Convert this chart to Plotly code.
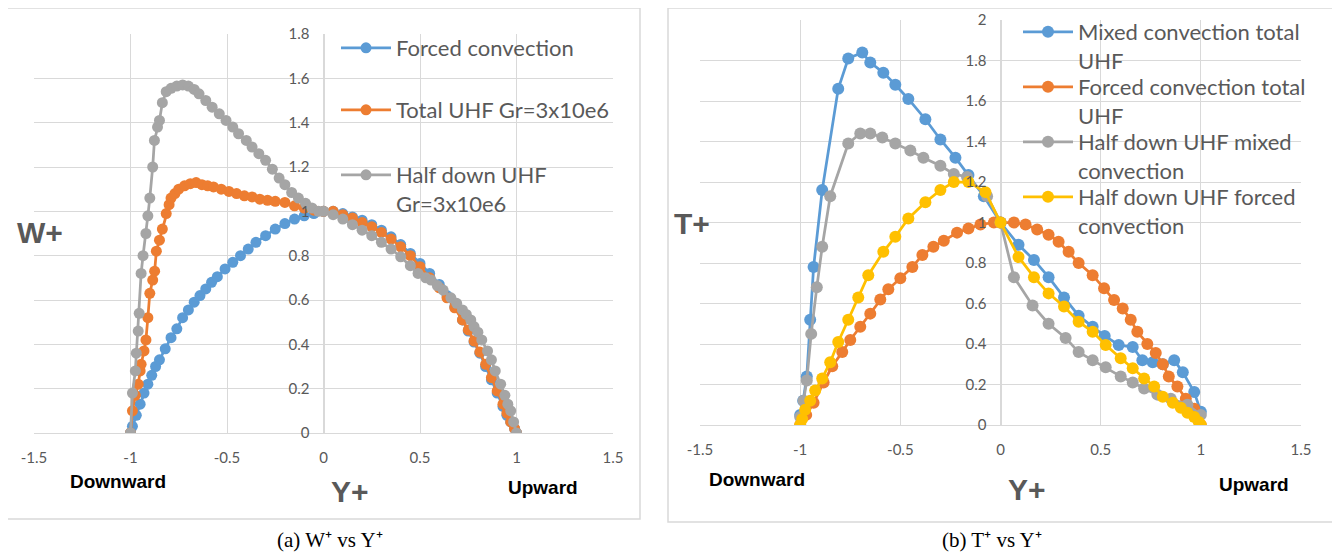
import plotly.graph_objects as go

# ---------------- data: panel (a) W+ vs Y+ ----------------
a_forced_y = [-1.0, -0.99, -0.97, -0.95, -0.93, -0.91, -0.89, -0.87, -0.85, -0.82, -0.79, -0.76, -0.73,
              -0.70, -0.67, -0.64, -0.61, -0.58, -0.55, -0.51, -0.47, -0.43, -0.39, -0.35, -0.30, -0.25,
              -0.20, -0.15, -0.10, -0.05, 0.0, 0.05, 0.10, 0.15, 0.20, 0.25, 0.30, 0.35, 0.40, 0.45, 0.50,
              0.55, 0.60, 0.64, 0.68, 0.72, 0.75, 0.78, 0.81, 0.84, 0.87, 0.90, 0.93, 0.95, 0.97, 0.99, 1.0]
a_forced_w = [0.0, 0.03, 0.08, 0.13, 0.18, 0.22, 0.26, 0.30, 0.33, 0.38, 0.43, 0.47, 0.52,
              0.555, 0.59, 0.62, 0.65, 0.68, 0.705, 0.74, 0.77, 0.80, 0.83, 0.86, 0.89, 0.92,
              0.945, 0.965, 0.98, 0.99, 1.0, 1.0, 0.99, 0.975, 0.96, 0.94, 0.915, 0.885, 0.85, 0.81, 0.765,
              0.72, 0.67, 0.62, 0.57, 0.51, 0.46, 0.41, 0.36, 0.30, 0.24, 0.18, 0.12, 0.08, 0.05, 0.02, 0.0]

a_total_y = [-1.0, -0.99, -0.975, -0.96, -0.95, -0.945, -0.93, -0.92, -0.91, -0.90, -0.885, -0.875, -0.866,
             -0.85, -0.835, -0.815, -0.80, -0.79, -0.77, -0.75, -0.72, -0.69, -0.66, -0.63, -0.60, -0.57,
             -0.53, -0.49, -0.45, -0.41, -0.37, -0.33, -0.29, -0.25, -0.20, -0.15, -0.10, -0.05, 0.0,
             0.05, 0.10, 0.15, 0.20, 0.25, 0.30, 0.35, 0.40, 0.45, 0.50, 0.55, 0.60, 0.64, 0.68, 0.72,
             0.75, 0.78, 0.81, 0.84, 0.87, 0.90, 0.93, 0.95, 0.97, 0.99, 1.0]
a_total_w = [0.0, 0.10, 0.17, 0.22, 0.28, 0.31, 0.37, 0.42, 0.52, 0.63, 0.69, 0.73, 0.82,
             0.87, 0.92, 0.99, 1.03, 1.06, 1.08, 1.10, 1.115, 1.125, 1.13, 1.12, 1.115, 1.11,
             1.10, 1.09, 1.08, 1.07, 1.065, 1.055, 1.05, 1.045, 1.04, 1.025, 1.015, 1.005, 1.0,
             1.0, 0.985, 0.97, 0.95, 0.93, 0.905, 0.875, 0.84, 0.80, 0.75, 0.70, 0.655, 0.61, 0.565, 0.51,
             0.465, 0.415, 0.365, 0.31, 0.25, 0.19, 0.13, 0.09, 0.05, 0.02, 0.0]

a_half_y = [-1.0, -0.99, -0.975, -0.97, -0.96, -0.955, -0.945, -0.935, -0.92, -0.91, -0.90, -0.885, -0.876,
            -0.86, -0.85, -0.835, -0.815, -0.79, -0.76, -0.73, -0.70, -0.67, -0.645, -0.61, -0.577, -0.54,
            -0.505, -0.47, -0.44, -0.40, -0.37, -0.335, -0.30, -0.265, -0.23, -0.20, -0.165, -0.13, -0.093,
            -0.06, -0.026, 0.0, 0.05, 0.10, 0.15, 0.20, 0.25, 0.30, 0.35, 0.40, 0.45, 0.49, 0.53, 0.557,
            0.59, 0.62, 0.66, 0.69, 0.72, 0.74, 0.763, 0.78, 0.80, 0.82, 0.85, 0.87, 0.89, 0.918, 0.94,
            0.955, 0.97, 0.985, 1.0]
a_half_w = [0.0, 0.18, 0.28, 0.36, 0.46, 0.54, 0.72, 0.80, 0.90, 0.98, 1.06, 1.20, 1.32,
            1.38, 1.41, 1.49, 1.54, 1.555, 1.565, 1.57, 1.565, 1.55, 1.53, 1.50, 1.47, 1.44,
            1.41, 1.38, 1.35, 1.32, 1.29, 1.26, 1.23, 1.19, 1.15, 1.12, 1.085, 1.06, 1.036,
            1.015, 1.0, 1.0, 0.985, 0.965, 0.94, 0.915, 0.89, 0.86, 0.83, 0.795, 0.755, 0.72, 0.70, 0.69,
            0.665, 0.645, 0.61, 0.585, 0.555, 0.535, 0.51, 0.48, 0.455, 0.42, 0.37, 0.33, 0.28, 0.22, 0.17,
            0.13, 0.10, 0.05, 0.0]

# ---------------- data: panel (b) T+ vs Y+ ----------------
b_mixed_y = [-1.0, -0.985, -0.967, -0.95, -0.933, -0.89, -0.81, -0.76, -0.69, -0.65, -0.585, -0.525,
             -0.46, -0.375, -0.30, -0.225, -0.16, -0.083, 0.0, 0.09, 0.167, 0.24, 0.317, 0.39, 0.46,
             0.52, 0.59, 0.66, 0.708, 0.76, 0.81, 0.867, 0.91, 0.967, 1.0]
b_mixed_t = [0.05, 0.12, 0.24, 0.52, 0.78, 1.16, 1.66, 1.81, 1.84, 1.79, 1.74, 1.68,
             1.61, 1.51, 1.41, 1.32, 1.235, 1.13, 1.0, 0.89, 0.815, 0.73, 0.63, 0.54, 0.485,
             0.44, 0.395, 0.385, 0.32, 0.31, 0.30, 0.32, 0.26, 0.163, 0.065]

b_forced_y = [-1.0, -0.97, -0.933, -0.883, -0.84, -0.79, -0.75, -0.70, -0.65, -0.60, -0.56, -0.50,
              -0.44, -0.39, -0.335, -0.283, -0.217, -0.16, -0.10, -0.033, 0.0, 0.067, 0.125, 0.183,
              0.24, 0.29, 0.34, 0.39, 0.46, 0.517, 0.567, 0.61, 0.65, 0.683, 0.733, 0.775, 0.81,
              0.84, 0.883, 0.925, 0.967, 1.0]
b_forced_t = [0.0, 0.05, 0.11, 0.21, 0.29, 0.36, 0.42, 0.485, 0.55, 0.62, 0.67, 0.725,
              0.78, 0.84, 0.88, 0.91, 0.95, 0.97, 0.99, 1.0, 1.0, 1.0, 0.99, 0.965,
              0.94, 0.905, 0.855, 0.80, 0.74, 0.675, 0.617, 0.575, 0.52, 0.46, 0.40, 0.355, 0.30,
              0.24, 0.19, 0.13, 0.08, 0.0]

b_halfmix_y = [-1.0, -0.983, -0.967, -0.945, -0.917, -0.89, -0.85, -0.76, -0.70, -0.65, -0.59, -0.525,
               -0.45, -0.385, -0.30, -0.233, -0.167, -0.067, 0.0, 0.067, 0.16, 0.24, 0.325, 0.39, 0.46,
               0.525, 0.60, 0.66, 0.717, 0.783, 0.85, 0.933, 1.0]
b_halfmix_t = [0.04, 0.12, 0.22, 0.45, 0.68, 0.88, 1.13, 1.39, 1.44, 1.44, 1.42, 1.39,
               1.355, 1.32, 1.28, 1.24, 1.225, 1.13, 1.0, 0.73, 0.59, 0.50, 0.43, 0.36, 0.32,
               0.285, 0.24, 0.21, 0.18, 0.15, 0.13, 0.10, 0.05]

b_halfforced_y = [-1.0, -0.99, -0.975, -0.95, -0.925, -0.89, -0.85, -0.81, -0.76, -0.71, -0.66, -0.585,
                  -0.525, -0.46, -0.375, -0.30, -0.233, -0.16, -0.075, 0.0, 0.09, 0.167, 0.24, 0.317,
                  0.39, 0.46, 0.525, 0.60, 0.66, 0.717, 0.767, 0.81, 0.86, 0.90, 0.933, 0.967, 0.99, 1.0]
b_halfforced_t = [0.0, 0.03, 0.075, 0.12, 0.17, 0.23, 0.31, 0.41, 0.52, 0.63, 0.74, 0.855,
                  0.93, 1.02, 1.10, 1.16, 1.20, 1.20, 1.15, 1.0, 0.83, 0.73, 0.65, 0.585,
                  0.51, 0.46, 0.395, 0.33, 0.28, 0.23, 0.19, 0.14, 0.11, 0.085, 0.06, 0.04, 0.015, 0.0]

x_tickvals = [-1.5, -1.0, -0.5, 0.0, 0.5, 1.0, 1.5]
x_ticktext = ["-1.5", "-1", "-0.5", "0", "0.5", "1", "1.5"]
a_y_tickvals = [0, 0.2, 0.4, 0.6, 0.8, 1.0, 1.2, 1.4, 1.6, 1.8]
a_y_ticktext = ["0", "0.2", "0.4", "0.6", "0.8", "1", "1.2", "1.4", "1.6", "1.8"]
b_y_tickvals = [0, 0.2, 0.4, 0.6, 0.8, 1.0, 1.2, 1.4, 1.6, 1.8, 2.0]
b_y_ticktext = ["0", "0.2", "0.4", "0.6", "0.8", "1", "1.2", "1.4", "1.6", "1.8", "2"]

BLUE, ORANGE, GRAY, YELLOW = "#5B9BD5", "#ED7D31", "#A5A5A5", "#FFC000"
OFF = 8  # page body margin of the browser
W, H = 1340 - OFF, 553 - OFF
GRID = "#D9D9D9"
TXT = "#595959"


def px(v):
    return (v - OFF) / W


def py(v):
    return 1 - (v - OFF) / H


fig = go.Figure()


def add(xs, ys, name, color, xa, ya, leg, msize):
    fig.add_trace(go.Scatter(
        x=xs, y=ys, name=name, mode="lines+markers",
        line=dict(color=color, width=2.75),
        marker=dict(color=color, size=msize),
        xaxis=xa, yaxis=ya, legend=leg, showlegend=True))


add(a_forced_y, a_forced_w, "Forced convection", BLUE, "x", "y", "legend", 11)
add(a_total_y, a_total_w, "Total UHF Gr=3x10e6", ORANGE, "x", "y", "legend2", 11)
add(a_half_y, a_half_w, "Half down UHF<br>Gr=3x10e6", GRAY, "x", "y", "legend3", 11)

add(b_mixed_y, b_mixed_t, "Mixed convection total<br>UHF", BLUE, "x2", "y2", "legend4", 12)
add(b_forced_y, b_forced_t, "Forced convection total<br>UHF", ORANGE, "x2", "y2", "legend5", 12)
add(b_halfmix_y, b_halfmix_t, "Half down UHF mixed<br>convection", GRAY, "x2", "y2", "legend6", 12)
add(b_halfforced_y, b_halfforced_t, "Half down UHF forced<br>convection", YELLOW, "x2", "y2", "legend7", 12)

tickfont = dict(family="Lato", size=15, color=TXT)
ax_common = dict(showgrid=True, gridcolor=GRID, gridwidth=1, zeroline=True, zerolinecolor=GRID,
                 zerolinewidth=1.5, ticks="", tickfont=tickfont, fixedrange=True, automargin=False)

# plot areas in pixels (window coordinates)
a_l, a_r, a_t, a_b = 34, 613, 34, 433
b_l, b_r, b_t, b_b = 700, 1301, 20, 425

fig.update_layout(
    width=W, height=H, autosize=False,
    margin=dict(l=0, r=0, t=0, b=0, pad=0, autoexpand=False),
    paper_bgcolor="white", plot_bgcolor="white",
    xaxis=dict(domain=[px(a_l), px(a_r)], range=[-1.5, 1.5], tickvals=x_tickvals, ticktext=x_ticktext,
               anchor="y", ticklabelstandoff=11, showline=True, linecolor=GRID, **ax_common),
    yaxis=dict(domain=[py(a_b), py(a_t)], range=[0, 1.8], tickvals=a_y_tickvals, ticktext=a_y_ticktext,
               anchor="free", position=px((a_l + a_r) / 2), ticklabelstandoff=14, **ax_common),
    xaxis2=dict(domain=[px(b_l), px(b_r)], range=[-1.5, 1.5], tickvals=x_tickvals, ticktext=x_ticktext,
                anchor="y2", ticklabelstandoff=11, showline=True, linecolor=GRID, **ax_common),
    yaxis2=dict(domain=[py(b_b), py(b_t)], range=[0, 2.0], tickvals=b_y_tickvals, ticktext=b_y_ticktext,
                anchor="free", position=px((b_l + b_r) / 2), ticklabelstandoff=14, **ax_common),
)

legfont = dict(family="Lato", size=22, color=TXT)


def leg(xp, yp):
    return dict(x=px(xp), y=py(yp), xanchor="left", yanchor="top", bgcolor="rgba(0,0,0,0)",
                font=legfont, itemwidth=50, valign="top", borderwidth=0)


fig.update_layout(
    legend=leg(336, 27),
    legend2=leg(336, 89),
    legend3=leg(336, 154),
    legend4=leg(1018, 11),
    legend5=leg(1018, 66),
    legend6=leg(1018, 121),
    legend7=leg(1018, 176),
)

# panel frames
fig.add_shape(type="rect", xref="paper", yref="paper", x0=px(5), x1=px(640), y0=py(519), y1=py(8),
              line=dict(color=GRID, width=1.5), layer="below")
fig.add_shape(type="rect", xref="paper", yref="paper", x0=px(668), x1=px(1338), y0=py(522), y1=py(8),
              line=dict(color=GRID, width=1.5), layer="below")


def ann(text, x, y, size, color, family="Liberation Sans", bold=True):
    fig.add_annotation(text=("<b>%s</b>" % text) if bold else text, xref="paper", yref="paper",
                       x=px(x), y=py(y), xanchor="center", yanchor="middle", showarrow=False,
                       font=dict(family=family, size=size, color=color))


ann("W+", 40, 233, 30, TXT)
ann("Y+", 350, 491, 30, TXT)
ann("Downward", 118, 481, 19, "black")
ann("Upward", 543, 487, 19, "black")
ann("T+", 692, 223, 30, TXT)
ann("Y+", 1027, 489, 30, TXT)
ann("Downward", 757, 479, 19, "black")
ann("Upward", 1254, 484, 19, "black")
ann("(a) W⁺ vs Y⁺", 330, 540, 21, "black", family="Liberation Serif", bold=False)
ann("(b) T⁺ vs Y⁺", 992, 540, 21, "black", family="Liberation Serif", bold=False)

fig.write_html("out.html")
